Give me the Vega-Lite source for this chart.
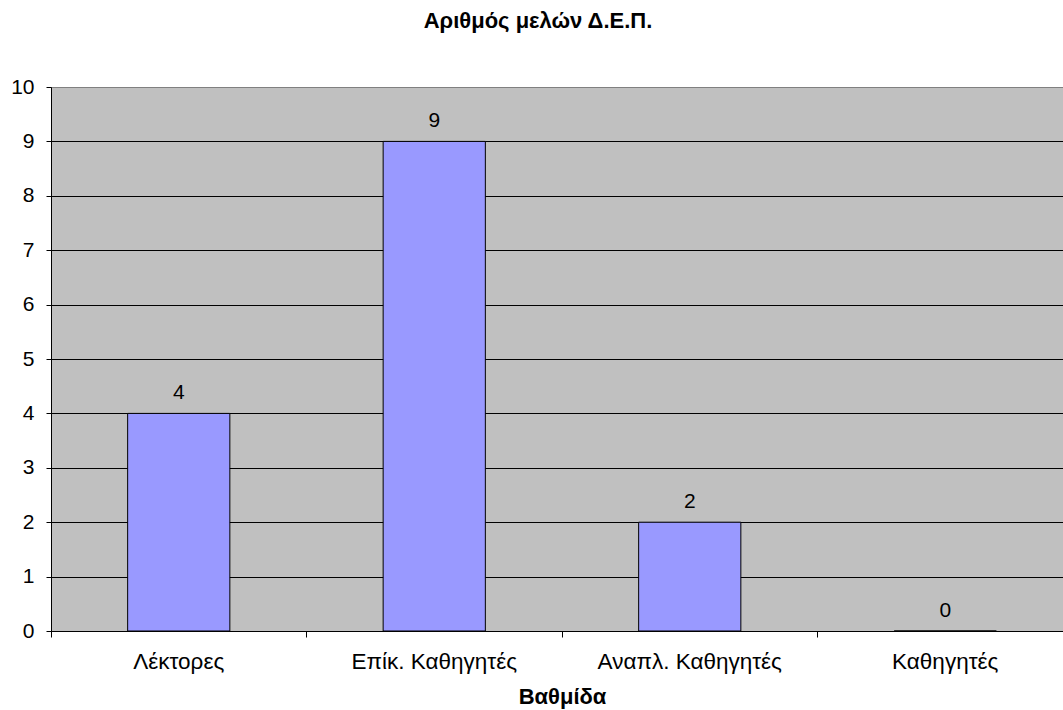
{
  "$schema": "https://vega.github.io/schema/vega-lite/v6.json",
  "width": 1022,
  "height": 544,
  "autosize": {"type": "none"},
  "padding": {"left": 51, "top": 87, "right": 0, "bottom": 79},
  "background": "white",
  "config": {
    "font": "Liberation Sans",
    "view": {"fill": "#c0c0c0", "stroke": "#808080", "strokeWidth": 1}
  },
  "title": {
    "text": "Αριθμός μελών Δ.Ε.Π.",
    "fontSize": 22,
    "fontWeight": "bold",
    "color": "black",
    "anchor": "middle",
    "dx": -24,
    "offset": 43
  },
  "data": {
    "values": [
      {"category": "Λέκτορες", "value": 4},
      {"category": "Επίκ. Καθηγητές", "value": 9},
      {"category": "Αναπλ. Καθηγητές", "value": 2},
      {"category": "Καθηγητές", "value": 0}
    ]
  },
  "encoding": {
    "x": {
      "field": "category",
      "type": "nominal",
      "sort": null,
      "scale": {"paddingInner": 0.6, "paddingOuter": 0.3},
      "axis": {
        "title": "Βαθμίδα",
        "titleFontSize": 22,
        "titleFontWeight": "bold",
        "titleColor": "black",
        "titlePadding": 14,
        "labelAngle": 0,
        "labelFontSize": 22.5,
        "labelLimit": 0,
        "labelColor": "black",
        "labelPadding": 13,
        "domainColor": "black",
        "tickColor": "black",
        "tickSize": 6,
        "bandPosition": -0.75,
        "grid": false
      }
    },
    "y": {
      "field": "value",
      "type": "quantitative",
      "scale": {"domain": [0, 10]},
      "axis": {
        "title": null,
        "values": [0, 1, 2, 3, 4, 5, 6, 7, 8, 9, 10],
        "labelFontSize": 21,
        "labelColor": "black",
        "labelPadding": 12,
        "domainColor": "black",
        "tickColor": "black",
        "tickSize": 5,
        "grid": true,
        "gridColor": {"condition": {"test": "datum.value === 10", "value": "#808080"}, "value": "black"},
        "gridOpacity": 1,
        "gridWidth": 1
      }
    }
  },
  "layer": [
    {
      "mark": {"type": "bar", "fill": "#9999ff", "stroke": "black", "strokeWidth": 1}
    },
    {
      "mark": {"type": "text", "baseline": "alphabetic", "dy": -14, "fontSize": 21, "color": "black"},
      "encoding": {"text": {"field": "value", "type": "quantitative"}}
    }
  ]
}
